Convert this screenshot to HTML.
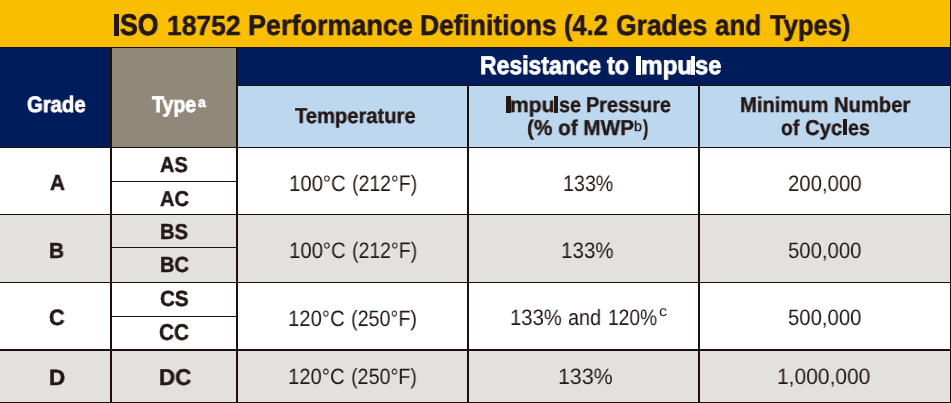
<!DOCTYPE html>
<html>
<head>
<meta charset="utf-8">
<title>ISO 18752 Performance Definitions</title>
<style>
html,body{margin:0;padding:0;}
body{width:951px;height:403px;position:relative;overflow:hidden;background:#ffffff;font-family:"Liberation Sans",sans-serif;color:#231815;}
.b{position:absolute;}
.ln{position:absolute;background:#1d100c;}
.t{will-change:transform;text-rendering:geometricPrecision;position:absolute;white-space:nowrap;line-height:1;transform-origin:0 0;font-weight:normal;}
.bd{font-weight:bold;}
</style>
</head>
<body>
<!-- backgrounds -->
<div class="b" style="left:0;top:0;width:951px;height:47px;background:#f9be00;"></div>
<div class="b" style="left:0;top:47px;width:951px;height:101px;background:#001c5b;"></div>
<div class="b" style="left:112px;top:48px;width:124px;height:99px;background:#908878;"></div>
<div class="b" style="left:238px;top:86px;width:712px;height:61px;background:#bdd7ee;"></div>
<div class="b" style="left:0;top:215px;width:951px;height:67px;background:#e3e1de;"></div>
<div class="b" style="left:0;top:351px;width:951px;height:51px;background:#e3e1de;"></div>

<!-- horizontal rules -->
<div class="ln" style="left:0;top:47px;width:951px;height:1px;"></div>
<div class="ln" style="left:238px;top:85px;width:713px;height:1px;"></div>
<div class="ln" style="left:0;top:147px;width:951px;height:1px;"></div>
<div class="ln" style="left:112px;top:181px;width:124px;height:1px;"></div>
<div class="ln" style="left:0;top:214px;width:951px;height:1px;"></div>
<div class="ln" style="left:112px;top:247px;width:124px;height:1px;"></div>
<div class="ln" style="left:0;top:282px;width:951px;height:1px;"></div>
<div class="ln" style="left:112px;top:316px;width:124px;height:1px;"></div>
<div class="ln" style="left:0;top:349px;width:951px;height:2px;"></div>
<div class="ln" style="left:0;top:402px;width:951px;height:1px;"></div>

<!-- vertical rules -->
<div class="ln" style="left:110px;top:48px;width:2px;height:355px;"></div>
<div class="ln" style="left:236px;top:48px;width:2px;height:355px;"></div>
<div class="ln" style="left:467px;top:84px;width:2px;height:319px;"></div>
<div class="ln" style="left:698px;top:84px;width:2px;height:319px;"></div>
<div class="ln" style="left:950px;top:0;width:1px;height:48px;background:#12122c;"></div>
<div class="ln" style="left:950px;top:48px;width:1px;height:355px;"></div>

<!-- text -->
<div id="ti0" class="t bd" style="left:120.20px;top:11px;font-size:29.94px;color:#231815;transform:scale(0.8871,1.000);-webkit-text-stroke:0.8px #231815;">SO</div>
<div id="ti1" class="t bd" style="left:166.68px;top:12px;font-size:27.76px;color:#231815;transform:scale(0.9534,1.000);-webkit-text-stroke:0.5px #231815;">18752</div>
<div id="ti2" class="t bd" style="left:247.52px;top:12px;font-size:28.63px;color:#231815;transform:scale(0.9416,1.000);-webkit-text-stroke:0.6px #231815;">Performance</div>
<div id="ti3" class="t bd" style="left:420.04px;top:12px;font-size:28.63px;color:#231815;transform:scale(0.9230,1.000);-webkit-text-stroke:0.6px #231815;">Definitions</div>
<div id="ti4" class="t bd" style="left:563.75px;top:12px;font-size:28.63px;color:#231815;transform:scale(0.8842,1.000);-webkit-text-stroke:0.6px #231815;">(4.2</div>
<div id="ti5" class="t bd" style="left:616.07px;top:12px;font-size:28.63px;color:#231815;transform:scale(0.9240,1.000);-webkit-text-stroke:0.6px #231815;">Grades</div>
<div id="ti6" class="t bd" style="left:715.01px;top:12px;font-size:28.63px;color:#231815;transform:scale(0.9049,1.000);-webkit-text-stroke:0.6px #231815;">and</div>
<div id="ti7" class="t bd" style="left:769.69px;top:12px;font-size:28.63px;color:#231815;transform:scale(0.8918,1.000);-webkit-text-stroke:0.6px #231815;">Types)</div>
<div id="rs0" class="t bd" style="left:479.78px;top:54px;font-size:25.58px;color:#fff;transform:scale(0.8978,1.000);-webkit-text-stroke:0.8px #fff;">Resistance</div>
<div id="rs1" class="t bd" style="left:606.88px;top:54px;font-size:25.58px;color:#fff;transform:scale(0.9116,1.000);-webkit-text-stroke:0.8px #fff;">to</div>
<div id="rs2" class="t bd" style="left:640.60px;top:54px;font-size:25.58px;color:#fff;transform:scale(0.9503,1.000);-webkit-text-stroke:0.8px #fff;">mpu</div>
<div id="rs3" class="t bd" style="left:695.14px;top:54px;font-size:25.58px;color:#fff;transform:scale(0.9260,1.000);-webkit-text-stroke:0.8px #fff;">se</div>
<div id="grade" class="t bd" style="left:27.49px;top:94px;font-size:22.38px;color:#fff;transform:scale(0.9069,1.000);-webkit-text-stroke:0.8px #fff;">Grade</div>
<div id="type" class="t bd" style="left:152.13px;top:94px;font-size:22.38px;color:#fff;transform:scale(0.8739,1.000);-webkit-text-stroke:0.8px #fff;">Type</div>
<div id="supa" class="t bd" style="left:198.25px;top:95px;font-size:14.0px;color:#fff;transform:scale(1.0154,1.000);-webkit-text-stroke:0.5px #fff;">a</div>
<div id="temp" class="t bd" style="left:295.16px;top:106px;font-size:21.51px;color:#231815;transform:scale(0.9377,1.000);-webkit-text-stroke:0.4px #231815;">Temperature</div>
<div id="ip0" class="t bd" style="left:510.15px;top:95px;font-size:21.51px;color:#231815;transform:scale(0.9800,1.000);-webkit-text-stroke:0.4px #231815;">mpu</div>
<div id="ip1" class="t bd" style="left:558.52px;top:95px;font-size:21.51px;color:#231815;transform:scale(0.9188,1.000);-webkit-text-stroke:0.4px #231815;">se</div>
<div id="ip2" class="t bd" style="left:585.96px;top:95px;font-size:21.51px;color:#231815;transform:scale(0.9230,1.000);-webkit-text-stroke:0.4px #231815;">Pressure</div>
<div id="imp2" class="t bd" style="left:527.05px;top:118px;font-size:21.51px;color:#231815;transform:scale(0.9627,1.000);-webkit-text-stroke:0.4px #231815;">(% of MWP</div>
<div id="supb" class="t" style="left:634.16px;top:120px;font-size:14.3px;color:#231815;transform:scale(0.9870,1.000);-webkit-text-stroke:0.35px #231815;">b</div>
<div id="imp3" class="t bd" style="left:642.91px;top:118px;font-size:21.51px;color:#231815;transform:scale(0.7414,1.000);-webkit-text-stroke:0.4px #231815;">)</div>
<div id="min1" class="t bd" style="left:740.44px;top:95px;font-size:21.51px;color:#231815;transform:scale(0.9376,1.000);-webkit-text-stroke:0.4px #231815;">Minimum Number</div>
<div id="mc0" class="t bd" style="left:781.24px;top:118px;font-size:21.51px;color:#231815;transform:scale(0.8931,1.000);-webkit-text-stroke:0.4px #231815;">of</div>
<div id="mc1" class="t bd" style="left:805.38px;top:118px;font-size:21.51px;color:#231815;transform:scale(0.9425,1.000);-webkit-text-stroke:0.4px #231815;">Cyc</div>
<div id="mc2" class="t bd" style="left:847.74px;top:118px;font-size:21.51px;color:#231815;transform:scale(0.9099,1.000);-webkit-text-stroke:0.4px #231815;">es</div>
<div id="gA" class="t bd" style="left:49.66px;top:172px;font-size:21.66px;color:#231815;transform:scale(0.9542,1.000);-webkit-text-stroke:0.5px #231815;">A</div>
<div id="gB" class="t bd" style="left:49.45px;top:240px;font-size:21.66px;color:#231815;transform:scale(0.9573,1.000);-webkit-text-stroke:0.5px #231815;">B</div>
<div id="gC" class="t bd" style="left:49.33px;top:307px;font-size:22.24px;color:#231815;transform:scale(0.9698,1.000);-webkit-text-stroke:0.5px #231815;">C</div>
<div id="gD" class="t bd" style="left:48.77px;top:367px;font-size:22.24px;color:#231815;transform:scale(1.0096,1.000);-webkit-text-stroke:0.5px #231815;">D</div>
<div id="tAS" class="t bd" style="left:160.47px;top:154px;font-size:21.66px;color:#231815;transform:scale(0.9185,1.000);-webkit-text-stroke:0.5px #231815;">AS</div>
<div id="tAC" class="t bd" style="left:159.68px;top:189px;font-size:21.51px;color:#231815;transform:scale(0.9329,1.000);-webkit-text-stroke:0.5px #231815;">AC</div>
<div id="tBS" class="t bd" style="left:160.29px;top:221px;font-size:21.66px;color:#231815;transform:scale(0.9248,1.000);-webkit-text-stroke:0.5px #231815;">BS</div>
<div id="tBC" class="t bd" style="left:159.69px;top:254px;font-size:21.95px;color:#231815;transform:scale(0.9139,1.000);-webkit-text-stroke:0.5px #231815;">BC</div>
<div id="tCS" class="t bd" style="left:160.18px;top:288px;font-size:21.95px;color:#231815;transform:scale(0.9391,1.000);-webkit-text-stroke:0.5px #231815;">CS</div>
<div id="tCC" class="t bd" style="left:159.35px;top:321px;font-size:22.82px;color:#231815;transform:scale(0.9087,1.000);-webkit-text-stroke:0.5px #231815;">CC</div>
<div id="tDC" class="t bd" style="left:159.18px;top:366px;font-size:22.82px;color:#231815;transform:scale(0.9788,1.000);-webkit-text-stroke:0.5px #231815;">DC</div>
<div id="c1Aa" class="t" style="left:288.75px;top:173px;font-size:22.38px;color:#231815;transform:scale(0.9076,1.000);">100°C</div>
<div id="c1Ab" class="t" style="left:351.66px;top:173px;font-size:22.38px;color:#231815;transform:scale(0.8697,1.000);">(212°F)</div>
<div id="c1Ba" class="t" style="left:288.75px;top:240px;font-size:22.38px;color:#231815;transform:scale(0.9076,1.000);">100°C</div>
<div id="c1Bb" class="t" style="left:351.66px;top:240px;font-size:22.38px;color:#231815;transform:scale(0.8697,1.000);">(212°F)</div>
<div id="c1Ca" class="t" style="left:288.26px;top:308px;font-size:22.24px;color:#231815;transform:scale(0.9135,1.000);">120°C</div>
<div id="c1Cb" class="t" style="left:350.94px;top:308px;font-size:22.24px;color:#231815;transform:scale(0.8857,1.000);">(250°F)</div>
<div id="c1Da" class="t" style="left:288.25px;top:366px;font-size:22.09px;color:#231815;transform:scale(0.9184,1.000);">120°C</div>
<div id="c1Db" class="t" style="left:350.93px;top:366px;font-size:22.09px;color:#231815;transform:scale(0.8927,1.000);">(250°F)</div>
<div id="c2A" class="t" style="left:562.50px;top:173px;font-size:22.38px;color:#231815;transform:scale(0.8792,1.000);">133%</div>
<div id="c2B" class="t" style="left:561.33px;top:240px;font-size:22.38px;color:#231815;transform:scale(0.9195,1.000);">133%</div>
<div id="c2Ca" class="t" style="left:509.86px;top:307px;font-size:22.24px;color:#231815;transform:scale(0.9126,1.000);">133%</div>
<div id="c2Cb" class="t" style="left:567.59px;top:307px;font-size:22.24px;color:#231815;transform:scale(0.8926,1.000);">and</div>
<div id="c2Cc" class="t" style="left:608.34px;top:307px;font-size:22.24px;color:#231815;transform:scale(0.8646,1.000);">120%</div>
<div id="supc" class="t" style="left:659.26px;top:305px;font-size:14.6px;color:#231815;transform:scale(1.1051,1.000);">c</div>
<div id="c2D" class="t" style="left:558.17px;top:366px;font-size:22.24px;color:#231815;transform:scale(0.9623,1.000);">133%</div>
<div id="c3A" class="t" style="left:788.05px;top:173px;font-size:22.24px;color:#231815;transform:scale(0.9156,1.000);">200,000</div>
<div id="c3B" class="t" style="left:788.21px;top:240px;font-size:22.24px;color:#231815;transform:scale(0.9135,1.000);">500,000</div>
<div id="c3C" class="t" style="left:788.21px;top:307px;font-size:22.24px;color:#231815;transform:scale(0.9135,1.000);">500,000</div>
<div id="c3D" class="t" style="left:777.11px;top:366px;font-size:22.24px;color:#231815;transform:scale(0.9433,1.000);">1,000,000</div>
<div class="b" style="left:113.9px;top:13.9px;width:5.1px;height:21.9px;background:#231815;"></div>
<div class="b" style="left:635.9px;top:55.8px;width:5.3px;height:19.2px;background:#fff;"></div>
<div class="b" style="left:690.9px;top:56.0px;width:4.2px;height:18.9px;background:#fff;"></div>
<div class="b" style="left:505.8px;top:96.0px;width:5.3px;height:16.8px;background:#231815;"></div>
<div class="b" style="left:554.1px;top:96.0px;width:3.8px;height:16.7px;background:#231815;"></div>
<div class="b" style="left:843.2px;top:119.2px;width:3.9px;height:16.2px;background:#231815;"></div>
</body>
</html>
